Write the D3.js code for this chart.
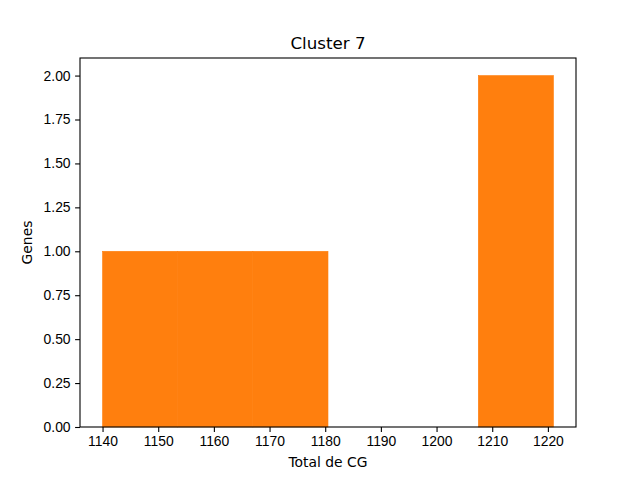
<!DOCTYPE html>
<html lang="en">
<head>
<meta charset="UTF-8">
<title>Cluster 7</title>
<script src="https://d3js.org/d3.v7.min.js"></script>
<style>
    body { margin: 0; background: #fff; }
    svg { display: block; font-family: "DejaVu Sans", sans-serif; }
    .tick text { font-size: 13.9px; fill: #000; }
    .tick line { stroke: #000; stroke-width: 1.1px; }
    .domain { display: none; }
</style>
</head>
<body>
<svg id="chart" width="640" height="480"></svg>
<script>
    // values (6 bins between min and max)
    const cgTotals = [1140, 1158, 1172, 1213, 1221];
    const binCount = 6;
    const xTicks = [1140, 1150, 1160, 1170, 1180, 1190, 1200, 1210, 1220];
    const yTicks = [0, 0.25, 0.5, 0.75, 1.0, 1.25, 1.5, 1.75, 2.0];
    const title = 'Cluster 7';
    const xLabel = 'Total de CG';
    const yLabel = 'Genes';

    const svg = d3.select('#chart');
    const plot = { left: 80, right: 576, top: 58, bottom: 427 };

    const lo = d3.min(cgTotals), hi = d3.max(cgTotals);
    const step = (hi - lo) / binCount;
    const edges = d3.range(1, binCount).map(i => lo + i * step);
    const bins = d3.bin().domain([lo, hi]).thresholds(edges)(cgTotals);

    const pad = (hi - lo) * 0.05;
    const x = d3.scaleLinear().domain([lo - pad, hi + pad]).range([plot.left, plot.right]);
    const yMax = d3.max(bins, b => b.length);
    const y = d3.scaleLinear().domain([0, yMax * 1.05]).range([plot.bottom, plot.top]);

    // bars (stroke in the same colour hides seams between adjacent bins)
    svg.append('g').selectAll('rect')
        .data(bins.filter(b => b.length > 0))
        .enter().append('rect')
        .attr('x', d => x(d.x0))
        .attr('width', d => x(d.x1) - x(d.x0))
        .attr('y', d => y(d.length))
        .attr('height', d => y(0) - y(d.length))
        .attr('fill', '#ff7f0e')
        .attr('stroke', '#ff7f0e')
        .attr('stroke-width', 0.6);

    // axes
    svg.append('g')
        .attr('transform', `translate(0,${plot.bottom})`)
        .call(d3.axisBottom(x).tickValues(xTicks).tickFormat(d3.format('d')).tickSize(4.9).tickPadding(4.5));

    svg.append('g')
        .attr('transform', `translate(${plot.left},0)`)
        .call(d3.axisLeft(y).tickValues(yTicks).tickFormat(d3.format('.2f')).tickSize(4.9).tickPadding(4.5));

    // frame
    svg.append('rect')
        .attr('x', plot.left).attr('y', plot.top)
        .attr('width', plot.right - plot.left).attr('height', plot.bottom - plot.top)
        .attr('fill', 'none').attr('stroke', '#000').attr('stroke-width', 1.1);

    svg.append('text')
        .attr('x', (plot.left + plot.right) / 2).attr('y', 49)
        .attr('text-anchor', 'middle')
        .attr('font-size', 16.7)
        .text(title);

    svg.append('text')
        .attr('x', (plot.left + plot.right) / 2).attr('y', 467)
        .attr('text-anchor', 'middle')
        .attr('font-size', 13.9)
        .text(xLabel);

    svg.append('text')
        .attr('transform', `translate(32,${(plot.top + plot.bottom) / 2}) rotate(-90)`)
        .attr('text-anchor', 'middle')
        .attr('font-size', 13.9)
        .text(yLabel);
</script>
</body>
</html>
